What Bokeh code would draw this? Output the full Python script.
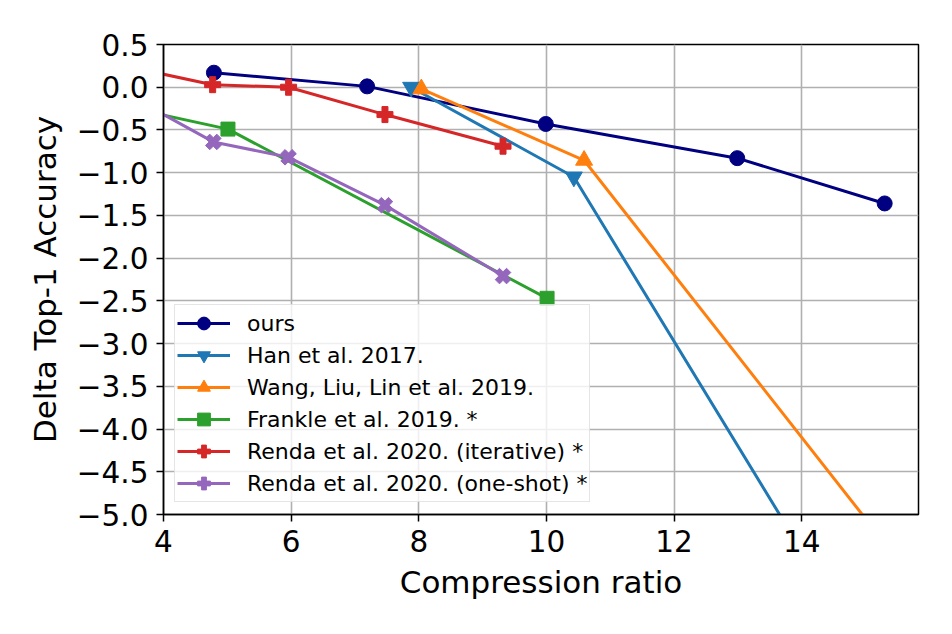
import numpy as np
from bokeh.plotting import figure
from bokeh.models import FixedTicker, CustomJSTickFormatter, Range1d
from bokeh.embed import file_html
from bokeh.resources import INLINE

# ---- data ----
ours_x = [4.79, 7.19, 9.99, 12.99, 15.30]
ours_y = [0.17, 0.01, -0.43, -0.83, -1.36]

han_x = [7.88, 10.43, 15.0]
han_y = [0.0, -1.05, -6.65]

wang_x = [8.04, 10.59, 16.0]
wang_y = [-0.02, -0.855, -6.0]

frankle_x = [2.0, 5.01, 10.01]
frankle_y = [0.0, -0.49, -2.47]

renda_it_x = [2.0, 4.77, 5.96, 7.47, 9.32]
renda_it_y = [0.47, 0.03, 0.0, -0.32, -0.69]

renda_os_x = [2.0, 4.78, 5.96, 7.47, 9.32]
renda_os_y = [0.50, -0.64, -0.82, -1.38, -2.21]

x_ticks = [4, 6, 8, 10, 12, 14]
y_ticks = [0.5, 0.0, -0.5, -1.0, -1.5, -2.0, -2.5, -3.0, -3.5, -4.0, -4.5, -5.0]

FONT = "DejaVu Sans"

p = figure(width=944, height=626, output_backend="svg", toolbar_location=None,
           x_range=Range1d(4, 15.83), y_range=Range1d(-5.0, 0.5),
           min_border_left=163, min_border_right=26, min_border_top=44, min_border_bottom=112)

p.outline_line_color = "black"
p.outline_line_width = 1.5
p.background_fill_color = "white"
p.border_fill_color = "white"

series = [
    (ours_x, ours_y, "#000080", "circle", 0, 15, "ours"),
    (han_x, han_y, "#1f77b4", "inverted_triangle", 0, 17, "Han et al. 2017."),
    (wang_x, wang_y, "#ff7f0e", "triangle", 0, 17, "Wang, Liu, Lin et al. 2019."),
    (frankle_x, frankle_y, "#2ca02c", "square", 0, 14, "Frankle et al. 2019. *"),
    (renda_it_x, renda_it_y, "#d62728", "plus", 0, 16, "Renda et al. 2020. (iterative) *"),
    (renda_os_x, renda_os_y, "#9467bd", "plus", np.pi / 4, 16, "Renda et al. 2020. (one-shot) *"),
]

for xs, ys, col, mk, ang, sz, lab in series:
    p.line(xs, ys, line_color=col, line_width=3, legend_label=lab)
    p.scatter(xs, ys, marker=mk, angle=ang, size=sz, fill_color=col, line_color=col,
              legend_label=lab)

# grid
p.xgrid.grid_line_color = "#b0b0b0"
p.ygrid.grid_line_color = "#b0b0b0"
p.xgrid.grid_line_width = 1.6
p.ygrid.grid_line_width = 1.6

# axes
p.xaxis.ticker = FixedTicker(ticks=x_ticks)
p.yaxis.ticker = FixedTicker(ticks=y_ticks)
p.yaxis.formatter = CustomJSTickFormatter(
    code="return (tick < 0 ? '\u2212' : '') + Math.abs(tick).toFixed(1);")

for ax in (p.xaxis, p.yaxis):
    ax.major_label_text_font = FONT
    ax.major_label_text_font_size = "29.5px"
    ax.major_label_text_color = "black"
    ax.axis_label_text_font = FONT
    ax.axis_label_text_font_size = "31px"
    ax.axis_label_text_font_style = "normal"
    ax.axis_label_text_color = "black"
    ax.major_tick_out = 7
    ax.major_tick_in = 0
    ax.minor_tick_out = 0
    ax.minor_tick_in = 0
    ax.major_tick_line_width = 1.5
    ax.axis_line_width = 1.5

p.xaxis.axis_label = "Compression ratio"
p.yaxis.axis_label = "Delta Top-1 Accuracy"
p.xaxis.major_label_standoff = 8
p.yaxis.major_label_standoff = 8
p.xaxis.axis_label_standoff = 9
p.yaxis.axis_label_standoff = 11

# legend
lg = p.legend[0]
lg.location = (11, 12)
lg.label_text_font = FONT
lg.label_text_font_size = "22px"
lg.label_text_color = "black"
lg.glyph_width = 53
lg.glyph_height = 32
lg.label_height = 32
lg.label_standoff = 17
lg.spacing = 0
lg.padding = 2
lg.margin = 0
lg.border_line_color = "#cccccc"
lg.border_line_width = 1.5
lg.background_fill_alpha = 0.8

open("out.html", "w").write(file_html(p, INLINE))
